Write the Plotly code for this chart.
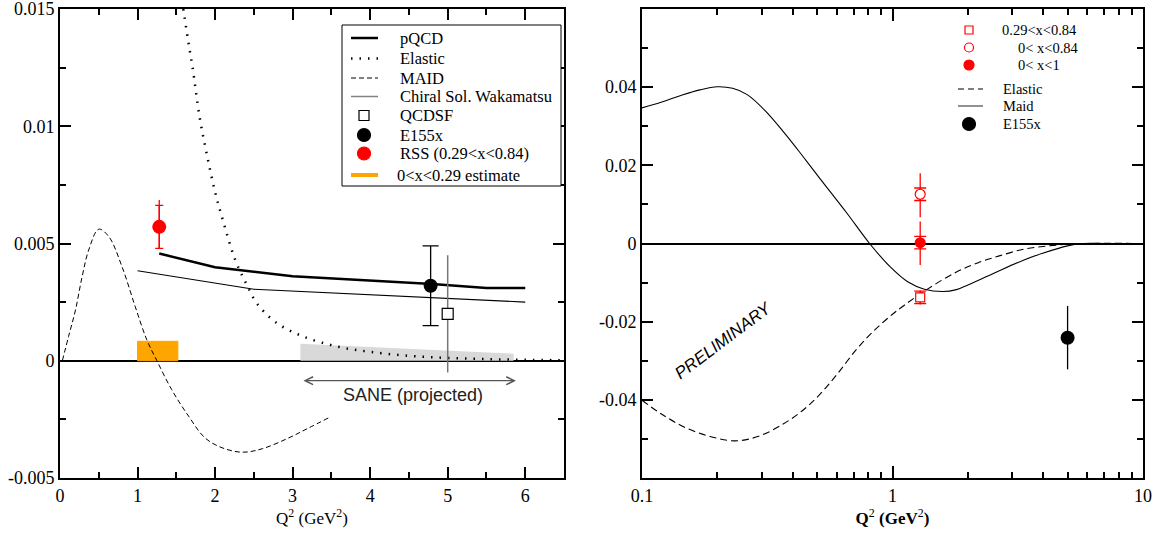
import plotly.graph_objects as go

# ---------------- Left panel data ----------------
pqcd_x = [1.28, 2.0, 3.0, 4.0, 4.8, 5.5, 6.0]
pqcd_y = [0.00457, 0.00399, 0.00360, 0.00342, 0.00327, 0.00310, 0.00310]

elastic_l_x = [1.59, 1.65, 1.71, 1.80, 1.90, 2.00, 2.10, 2.26, 2.40, 2.55, 2.80, 3.14, 3.57, 4.0, 4.5, 5.0, 5.5, 6.0, 6.5]
elastic_l_y = [0.0150, 0.0137, 0.0125, 0.0104, 0.0087, 0.0072, 0.0060, 0.0043, 0.0033, 0.0024, 0.0016, 0.00103,
               0.00061, 0.00038, 0.00021, 0.00012, 0.00007, 0.00004, 0.00002]

maid_l_x = [0.03, 0.11, 0.2, 0.285, 0.37, 0.5, 0.63, 0.8, 0.97, 1.12, 1.25, 1.44, 1.66, 1.87, 2.09, 2.35, 2.61,
            2.95, 3.21, 3.46]
maid_l_y = [0.0, 0.00103, 0.00217, 0.00358, 0.00472, 0.00561, 0.00529, 0.00401, 0.00231, 0.00089, 0.0, -0.00123,
            -0.00237, -0.00329, -0.00371, -0.0039, -0.00375, -0.00329, -0.00286, -0.00244]

chiral_x = [1.0, 2.5, 6.0]
chiral_y = [0.00384, 0.00305, 0.00250]

qcdsf_x = [5.0]
qcdsf_y = [0.0020]
qcdsf_err = [0.0025]

e155_l_x = [4.78]
e155_l_y = [0.0032]
e155_l_err = [0.0017]

rss_x = [1.28]
rss_y = [0.00571]
rss_err_stat = [0.00092]
rss_err_tot_plus = [0.00114]
rss_err_tot_minus = [0.00092]

low_x_est_x = [1.0, 1.0, 1.52, 1.52, 1.0]
low_x_est_y = [0.0, 0.00083, 0.00083, 0.0, 0.0]

sane_x = [3.1, 3.1, 5.85, 5.85, 3.1]
sane_y = [0.0, 0.00072, 0.00030, 0.0, 0.0]

sane_arrow_x = [3.12, 5.88]
sane_arrow_y = [-0.00085, -0.00085]

# ---------------- Right panel data ----------------
maid_r_x = [0.1, 0.12, 0.142, 0.17, 0.2, 0.23, 0.263, 0.31, 0.37, 0.44, 0.518, 0.657, 0.81, 0.98, 1.15, 1.34,
            1.59, 1.8, 2.0, 2.54, 3.35, 3.97, 5.0, 5.8, 7.0, 10.0]
maid_r_y = [0.0347, 0.0362, 0.0378, 0.0393, 0.0401, 0.0397, 0.0381, 0.0340, 0.0283, 0.0222, 0.0163, 0.0078,
            0.0, -0.0060, -0.0098, -0.0117, -0.0123, -0.0118, -0.0106, -0.0076, -0.0042, -0.0025, -0.0006, 0.0,
            0.0, 0.0]

elastic_r_x = [0.1, 0.12, 0.15, 0.19, 0.235, 0.29, 0.366, 0.44, 0.513, 0.6, 0.72, 0.85, 1.0, 1.12, 1.37, 1.8,
               2.2, 2.69, 3.37, 4.2, 5.0, 6.0, 10.0]
elastic_r_y = [-0.0401, -0.0437, -0.0472, -0.0495, -0.0505, -0.0494, -0.0462, -0.0426, -0.0386, -0.0335,
               -0.0270, -0.0221, -0.0181, -0.0157, -0.0118, -0.0073, -0.0049, -0.0031, -0.0014, -0.0006,
               -0.0002, 0.0, 0.0]

q2_rss = [1.29]
sq_y = [-0.0138]
sq_stat = [0.0016]
sq_tot = [0.0018]
oc_y = [0.0126]
oc_stat = [0.0016]
oc_tot_plus = [0.0054]
oc_tot_minus = [0.0059]
fc_y = [0.0002]
fc_stat = [0.0016]
fc_tot_plus = [0.0054]
fc_tot_minus = [0.0057]

e155_r_x = [5.0]
e155_r_y = [-0.0241]
e155_r_err = [0.0081]

# legend labels
legend_left_labels = ["pQCD", "Elastic", "MAID", "Chiral Sol. Wakamatsu", "QCDSF", "E155x",
                      "RSS (0.29<x<0.84)", "0<x<0.29 estimate"]
legend_right_labels = ["0.29<x<0.84", "0< x<0.84", "0< x<1", "Elastic", "Maid", "E155x"]

# ---------------- Figure ----------------
SERIF = "Liberation Serif"
SANS = "Liberation Sans"
ML, MR, MT, MB = 60, 19, 9, 57
FW, FH = 1162, 535
PW, PH = FW - ML - MR, FH - MT - MB


def px(x):
    return (x - ML) / PW


def py(y):
    return (FH - MB - y) / PH


fig = go.Figure()

# Left panel
fig.add_trace(go.Scatter(x=sane_x, y=sane_y, mode="lines", fill="toself", fillcolor="#d9d9d9",
                         line=dict(color="#d9d9d9", width=0), hoverinfo="skip"))
fig.add_trace(go.Scatter(x=low_x_est_x, y=low_x_est_y, mode="lines", fill="toself", fillcolor="#ffa500",
                         line=dict(color="#ffa500", width=1)))
fig.add_trace(go.Scatter(x=pqcd_x, y=pqcd_y, mode="lines", line=dict(color="black", width=2.5)))
fig.add_trace(go.Scatter(x=elastic_l_x, y=elastic_l_y, mode="lines", line_shape="spline",
                         line=dict(color="black", width=2.5, dash="1.5px,7px")))
fig.add_trace(go.Scatter(x=maid_l_x, y=maid_l_y, mode="lines", line_shape="spline",
                         line=dict(color="black", width=1, dash="5px,3px")))
fig.add_trace(go.Scatter(x=chiral_x, y=chiral_y, mode="lines", line=dict(color="black", width=1.1)))
fig.add_trace(go.Scatter(x=qcdsf_x, y=qcdsf_y, mode="markers",
                         marker=dict(symbol="square", size=11, color="white", line=dict(color="black", width=1.2)),
                         error_y=dict(type="data", array=qcdsf_err, color="#777777", thickness=1.5, width=0)))
fig.add_trace(go.Scatter(x=e155_l_x, y=e155_l_y, mode="markers",
                         marker=dict(symbol="circle", size=14, color="black"),
                         error_y=dict(type="data", array=e155_l_err, color="black", thickness=1.3, width=8)))
fig.add_trace(go.Scatter(x=rss_x, y=rss_y, mode="markers", marker=dict(size=1, color="rgba(0,0,0,0)"),
                         error_y=dict(type="data", array=rss_err_tot_plus, arrayminus=rss_err_tot_minus,
                                      color="red", thickness=1.3, width=0)))
fig.add_trace(go.Scatter(x=rss_x, y=rss_y, mode="markers", marker=dict(symbol="circle", size=14, color="red"),
                         error_y=dict(type="data", array=rss_err_stat, color="red", thickness=1.3, width=4)))

# Right panel
for yv, tp, tm in [(sq_y, sq_tot, sq_tot), (oc_y, oc_tot_plus, oc_tot_minus), (fc_y, fc_tot_plus, fc_tot_minus)]:
    fig.add_trace(go.Scatter(x=q2_rss, y=yv, mode="markers", xaxis="x2", yaxis="y2",
                             marker=dict(size=1, color="rgba(0,0,0,0)"),
                             error_y=dict(type="data", array=tp, arrayminus=tm, color="red", thickness=1.3,
                                          width=0)))
fig.add_trace(go.Scatter(x=maid_r_x, y=maid_r_y, mode="lines", xaxis="x2", yaxis="y2", line_shape="spline",
                         line=dict(color="black", width=1.1)))
fig.add_trace(go.Scatter(x=elastic_r_x, y=elastic_r_y, mode="lines", xaxis="x2", yaxis="y2", line_shape="spline",
                         line=dict(color="black", width=1.1, dash="7px,4px")))
fig.add_trace(go.Scatter(x=q2_rss, y=sq_y, mode="markers", xaxis="x2", yaxis="y2",
                         marker=dict(symbol="square", size=9, color="white", line=dict(color="red", width=1.2)),
                         error_y=dict(type="data", array=sq_stat, color="red", thickness=1.3, width=6)))
fig.add_trace(go.Scatter(x=q2_rss, y=oc_y, mode="markers", xaxis="x2", yaxis="y2",
                         marker=dict(symbol="circle", size=10, color="white", line=dict(color="red", width=1.2)),
                         error_y=dict(type="data", array=oc_stat, color="red", thickness=1.3, width=6)))
fig.add_trace(go.Scatter(x=q2_rss, y=fc_y, mode="markers", xaxis="x2", yaxis="y2",
                         marker=dict(symbol="circle", size=11, color="red"),
                         error_y=dict(type="data", array=fc_stat, color="red", thickness=1.3, width=6)))
fig.add_trace(go.Scatter(x=e155_r_x, y=e155_r_y, mode="markers", xaxis="x2", yaxis="y2",
                         marker=dict(symbol="circle", size=14, color="black"),
                         error_y=dict(type="data", array=e155_r_err, color="black", thickness=1.3, width=0)))

# ---------------- Hand-drawn legends ----------------
shapes = []
annots = []


def line_sample(x0, x1, y, color, width, dash="solid"):
    shapes.append(dict(type="line", xref="paper", yref="paper", x0=px(x0), x1=px(x1), y0=py(y), y1=py(y),
                       line=dict(color=color, width=width, dash=dash)))


def circle_sample(cx, cy, d, fill, edge):
    r = d / 2
    shapes.append(dict(type="circle", xref="paper", yref="paper", x0=px(cx - r), x1=px(cx + r), y0=py(cy + r),
                       y1=py(cy - r), fillcolor=fill, line=dict(color=edge, width=1.2)))


def square_sample(cx, cy, d, edge):
    r = d / 2
    shapes.append(dict(type="rect", xref="paper", yref="paper", x0=px(cx - r), x1=px(cx + r), y0=py(cy + r),
                       y1=py(cy - r), fillcolor="white", line=dict(color=edge, width=1.2)))


def label(x, y, text, size):
    annots.append(dict(x=px(x), y=py(y), xref="paper", yref="paper", xanchor="left", yanchor="middle",
                       text=text, showarrow=False, font=dict(family=SERIF, size=size, color="black")))


# left legend box
shapes.append(dict(type="rect", xref="paper", yref="paper", x0=px(342), x1=px(561), y0=py(186), y1=py(25),
                   fillcolor="white", line=dict(color="black", width=1)))
ly = [38, 58.5, 78, 96.5, 115.5, 135, 153.5, 175]
line_sample(351, 378, ly[0], "black", 2.5)
line_sample(351, 378, ly[1], "black", 2.5, "1.5px,7px")
line_sample(351, 378, ly[2], "black", 1, "5px,3px")
line_sample(351, 378, ly[3], "#808080", 1.5)
square_sample(364, ly[4], 10, "black")
circle_sample(364, ly[5], 13, "black", "black")
circle_sample(364, ly[6], 13, "red", "red")
line_sample(351, 378, ly[7], "#ffa500", 4)
for i, t in enumerate(legend_left_labels):
    label(394.5 if i == 7 else 397.5, ly[i], t, 16.5)

# right legend (no box)
ry = [30, 47.5, 65, 89, 106, 124]
square_sample(969, ry[0], 8, "red")
circle_sample(969, ry[1], 9, "white", "red")
circle_sample(969, ry[2], 10, "red", "red")
line_sample(958, 983, ry[3], "black", 1.1, "6px,4px")
line_sample(958, 983, ry[4], "#555555", 1.3)
circle_sample(969, ry[5], 13, "black", "black")
rx = [1000, 1016, 1016, 1001, 1001, 1001]
for i, t in enumerate(legend_right_labels):
    label(rx[i], ry[i], t, 14.5)

annots += [
    dict(x=sane_arrow_x[1], y=sane_arrow_y[1], ax=sane_arrow_x[0], ay=sane_arrow_y[0], xref="x", yref="y",
         axref="x", ayref="y", text="", showarrow=True, arrowside="end+start", arrowhead=5,
         arrowsize=1.2, arrowwidth=1.3, arrowcolor="#555555"),
    dict(x=4.55, y=-0.00148, xref="x", yref="y", text="SANE (projected)", showarrow=False,
         font=dict(family=SANS, size=18, color="#222222")),
    dict(x=-0.676, y=-0.0247, xref="x2", yref="y2", text="PRELIMINARY", showarrow=False, textangle=-37,
         font=dict(family=SANS, size=17, color="black", style="italic")),
]

axis_common = dict(showline=True, linecolor="black", linewidth=2, mirror="ticks", ticks="inside",
                   tickcolor="black", tickwidth=1.5, showgrid=False, automargin=False,
                   ticklabeloverflow="allow", tickfont=dict(family=SERIF, size=18, color="black"))
minor_common = dict(ticklen=6, ticks="inside", tickcolor="black", tickwidth=1.5, showgrid=False)

fig.update_layout(
    width=FW, height=FH,
    margin=dict(l=ML, r=MR, t=MT, b=MB, autoexpand=False),
    paper_bgcolor="white", plot_bgcolor="white",
    showlegend=False,
    font=dict(family=SERIF, color="black"),
    xaxis=dict(domain=[0, px(564)], range=[0, 6.5], anchor="y",
               tickvals=[0, 1, 2, 3, 4, 5, 6], ticktext=["0", "1", "2", "3", "4", "5", "6"], ticklen=11,
               minor=dict(tickvals=[0.5, 1.5, 2.5, 3.5, 4.5, 5.5], **minor_common),
               title=dict(text="Q<sup>2</sup> (GeV<sup>2</sup>)", font=dict(family=SERIF, size=17),
                          standoff=3),
               zeroline=False, **axis_common),
    yaxis=dict(domain=[0, 1], range=[-0.005, 0.015], anchor="x",
               tickvals=[-0.005, 0, 0.005, 0.01, 0.015], ticktext=["-0.005", "0", "0.005", "0.01", "0.015"],
               ticklen=11,
               minor=dict(tickvals=[-0.0025, 0.0025, 0.0075, 0.0125], **minor_common),
               zeroline=True, zerolinecolor="black", zerolinewidth=2, **axis_common),
    xaxis2=dict(domain=[px(642), 1], type="log", range=[-1, 1], anchor="y2",
                tickvals=[0.1, 1, 10], ticktext=["0.1", "1", "10"], ticklen=12,
                minor=dict(tickvals=[0.2, 0.3, 0.4, 0.5, 0.6, 0.7, 0.8, 0.9, 2, 3, 4, 5, 6, 7, 8, 9],
                           **minor_common),
                title=dict(text="<b>Q</b><sup>2</sup> <b>(GeV</b><sup>2</sup><b>)</b>",
                           font=dict(family=SERIF, size=17), standoff=3),
                zeroline=False, **axis_common),
    yaxis2=dict(domain=[0, 1], range=[-0.06, 0.06], anchor="x2",
                tickvals=[-0.04, -0.02, 0, 0.02, 0.04], ticktext=["-0.04", "-0.02", "0", "0.02", "0.04"],
                ticklen=11,
                minor=dict(tickvals=[-0.05, -0.03, -0.01, 0.01, 0.03, 0.05], **minor_common),
                zeroline=True, zerolinecolor="black", zerolinewidth=2, **axis_common),
    shapes=shapes,
    annotations=annots,
)

fig.write_html("out.html", config={"displayModeBar": False},
               post_script="document.body.style.margin='0px';")
